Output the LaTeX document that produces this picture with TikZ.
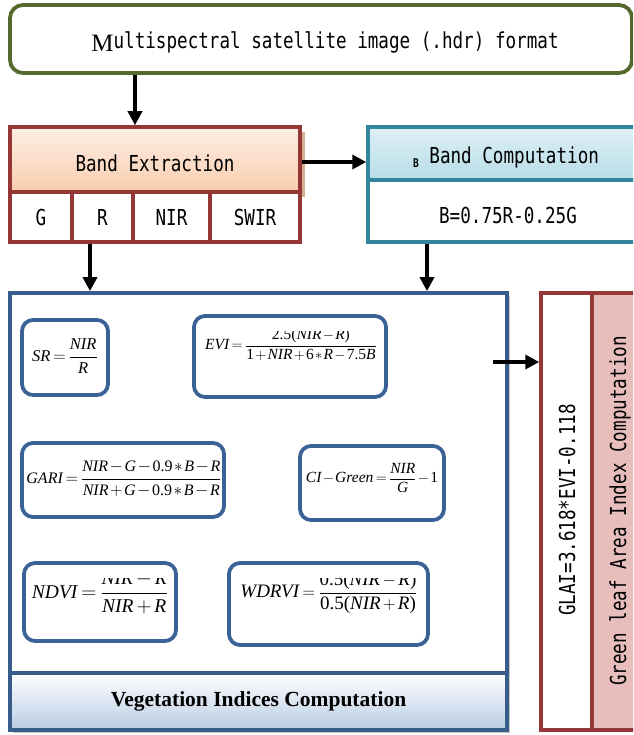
\documentclass[tikz,border=0pt]{standalone}
\usepackage{fontspec}
\setmainfont{Liberation Serif}
\newfontfamily\gul[FakeStretch=0.8]{DejaVu Sans Mono}
\usetikzlibrary{arrows.meta,shadings,calc}
\definecolor{cOlive}{RGB}{85,105,45}
\definecolor{cRed}{RGB}{149,55,53}
\definecolor{cTeal}{RGB}{49,133,156}
\definecolor{cBlT}{RGB}{222,240,245}
\definecolor{cBlB}{RGB}{183,221,232}
\definecolor{cOrT}{RGB}{253,238,228}
\definecolor{cOrB}{RGB}{250,205,175}
\definecolor{cShadow}{RGB}{215,175,145}
\definecolor{cVb}{RGB}{56,93,138}
\definecolor{cFbl}{RGB}{58,98,150}
\definecolor{cVbB}{RGB}{184,204,228}
\definecolor{cPink}{RGB}{232,190,189}
\newcommand\itx[1]{\mbox{\itshape #1}}
\newcommand\rmx[1]{\mbox{\upshape #1}}
\begin{document}
\begin{tikzpicture}[x=1pt,y=-1pt,
  lbl/.style={font=\gul\fontsize{22}{24}\selectfont,text=black,inner sep=0pt},
  arr/.style={line width=3.5pt,-{Triangle[length=14pt,width=14pt]}},
  redbox/.style={draw=cRed,line width=3.5pt,inner sep=0pt},
  fbox/.style={draw=cFbl,line width=3.75pt,rounded corners=11pt,fill=white,inner sep=0pt},
  fml/.style={inner sep=0pt,font=\fontsize{#1}{#1}\selectfont,
    execute at begin node={\medmuskip=1.6mu\thickmuskip=3mu}},
  fml/.default=16,
  fmw/.style={inner sep=0pt,font=\fontsize{#1}{#1}\selectfont,
    execute at begin node={\medmuskip=2.5mu plus 1mu\thickmuskip=3.5mu plus 1mu}}]
\useasboundingbox (0,0) rectangle (633,735);
\clip (0,0) rectangle (633,735);

% source
\node[draw=cOlive,line width=3.75pt,rounded corners=13pt,fill=white,minimum width=622pt,minimum height=68pt,inner sep=0pt] (src) at (321,39) {};
\node[lbl] (srct) at (325,42) {\raisebox{-3pt}{\rmfamily\fontsize{25}{25}\selectfont M}ultispectral satellite image (.hdr) format};

% band extraction
\fill[cShadow] (15,132) rectangle (305,197);
\node[redbox,top color=cOrT,bottom color=cOrB,minimum width=290pt,minimum height=65pt] (ext) at (155,159.5) {};
\node[lbl] (extt) at (155,163) {Band Extraction};
\node[redbox,fill=white,minimum width=62pt,minimum height=50pt,lbl] (g) at (41,217) {G};
\node[redbox,fill=white,minimum width=61pt,minimum height=50pt,lbl] (r) at (102.5,217) {R};
\node[redbox,fill=white,minimum width=77pt,minimum height=50pt,lbl] (nir) at (171.5,217) {NIR};
\node[redbox,fill=white,minimum width=90pt,minimum height=50pt,lbl] (swir) at (255,217) {SWIR};

% band computation
\node[draw=cTeal,line width=3.5pt,fill=white,minimum width=277pt,minimum height=62pt,inner sep=0pt] (bval) at (506.5,211) {};
\node[draw=cTeal,line width=3.5pt,top color=cBlT,bottom color=cBlB,minimum width=277pt,minimum height=53pt,inner sep=0pt] (cmp) at (506.5,153.5) {};
\node[lbl] (cmpt) at (506,157) {\raisebox{-4pt}{\fontsize{12}{12}\selectfont\bfseries B} Band Computation};
\node[lbl] (bvalt) at (508,215) {B=0.75R-0.25G};

% vegetation indices
\fill[gray!45] (13,296) rectangle (510,733);
\node[draw=cVb,line width=3.75pt,fill=white,minimum width=497pt,minimum height=380pt,inner sep=0pt] (veg) at (258.5,483) {};
\node[draw=cVb,line width=3.75pt,top color=white,bottom color=cVbB,minimum width=497pt,minimum height=57pt,inner sep=0pt,font=\bfseries\fontsize{21.5}{21.5}\selectfont] (vegt) at (258.5,701.5) {Vegetation Indices Computation};

% formula boxes
\node[fbox,minimum width=86pt,minimum height=75pt] (sr) at (65,357.5) {};
\node[fml=16.5] (srf) at (65,356) {$\displaystyle\itx{SR}=\frac{\itx{NIR}}{\itx{R}}$};

\node[fbox,minimum width=192pt,minimum height=81pt] (evi) at (290,356.5) {};
\begin{scope}
\clip (196,331) rectangle (384,395);
\node[fml=15.5] (evif) at (291,345) {$\displaystyle\itx{EVI}=\frac{\rmx{2.5(}\itx{NIR}-\itx{R}\rmx{)}}{\rmx{1}+\itx{NIR}+\rmx{6}*\itx{R}-\rmx{7.5}\itx{B}}$};
\end{scope}

\node[fbox,minimum width=202pt,minimum height=74pt] (gari) at (123,480) {};
\node[fml=16] (garif) at (124,479) {$\displaystyle\itx{GARI}=\frac{\itx{NIR}-\itx{G}-\rmx{0.9}*\itx{B}-\itx{R}}{\itx{NIR}+\itx{G}-\rmx{0.9}*\itx{B}-\itx{R}}$};

\node[fbox,minimum width=144pt,minimum height=74pt] (ci) at (372,483) {};
\node[fml=15.5] (cif) at (372,478) {$\displaystyle\itx{CI}-\itx{Green}=\frac{\itx{NIR}}{\itx{G}}-\rmx{1}$};

\node[fbox,minimum width=152pt,minimum height=78pt] (ndvi) at (100,602) {};
\begin{scope}
\clip (26,578) rectangle (174,639);
\node[fmw=19.5] (ndvif) at (100,593) {$\displaystyle\itx{NDVI}=\frac{\itx{NIR}-\itx{R}}{\itx{NIR}+\itx{R}}$};
\end{scope}

\node[fbox,minimum width=199pt,minimum height=82pt] (wdrvi) at (328.5,604) {};
\begin{scope}
\clip (231,578) rectangle (426,643);
\node[fmw=19] (wdrvif) at (329,593) {$\displaystyle\itx{WDRVI}=\frac{\rmx{0.5(}\itx{NIR}-\itx{R}\rmx{)}}{\rmx{0.5(}\itx{NIR}+\itx{R}\rmx{)}}$};
\end{scope}

% GLAI
\node[redbox,fill=white,minimum width=51pt,minimum height=437pt] (glai) at (566.5,511.5) {};
\node[lbl,rotate=90] (glait) at (567,510) {GLAI=3.618*EVI-0.118};
\node[redbox,fill=cPink,minimum width=53pt,minimum height=437pt] (gla) at (618.5,511.5) {};
\node[lbl,rotate=90] (glat) at (620,511) {Green leaf Area Index Computation};

% arrows
\draw[arr] ([xshift=-186pt]src.south) -- ([xshift=-20pt]ext.north);
\draw[arr] ([yshift=-2.5pt]ext.east) -- ([yshift=-2.5pt]ext.east -| cmp.west);
\draw[arr] ([xshift=-12.5pt]r.south) -- ([xshift=-12.5pt]r.south |- veg.north);
\draw[arr] ([xshift=-79.5pt]bval.south) -- ([xshift=-79.5pt]bval.south |- veg.north);
\coordinate (vo) at (493,362);
\draw[arr] (vo) -- (vo -| glai.west);
\end{tikzpicture}
\end{document}
